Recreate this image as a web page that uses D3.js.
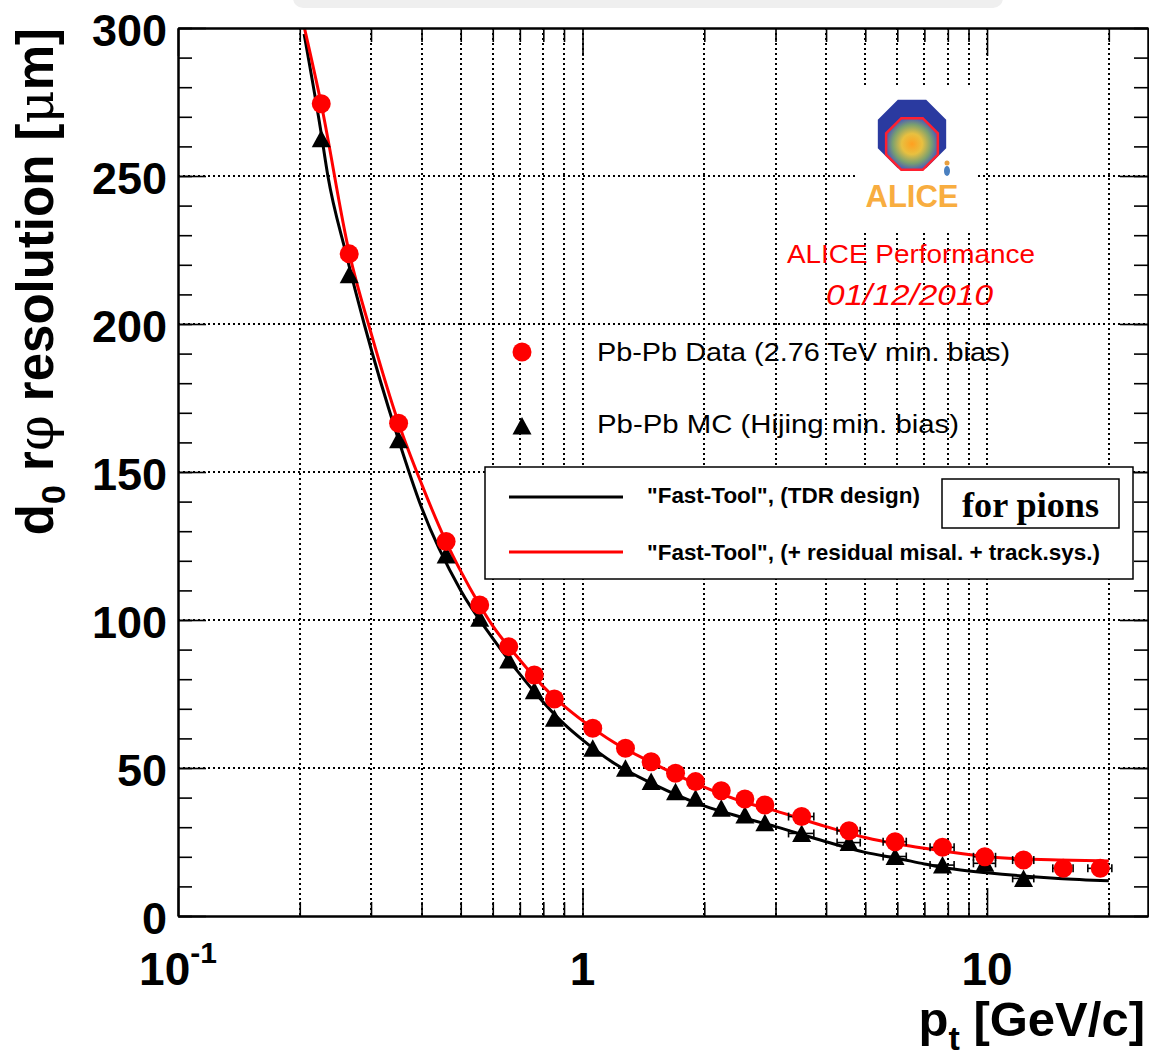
<!DOCTYPE html>
<html lang="en">
<head>
<meta charset="UTF-8" />
<title>d0 r-phi resolution vs pt</title>
<script src="https://cdn.jsdelivr.net/npm/d3@7"></script>
<style>
    body { margin: 0; background: #fff; }
    svg { font-family: "Liberation Sans", Arial, Helvetica, sans-serif; }
    .grid line { stroke: #000; stroke-width: 1.6; stroke-dasharray: 2,3; shape-rendering: crispEdges; }
    .axis path { stroke: #000; stroke-width: 2; }
    .axis line { stroke: #000; stroke-width: 1.6; }
</style>
</head>
<body>
<svg id="chart" width="1149" height="1059"></svg>
<script>
    // measured bins (pt in GeV/c)
    const ptBins = [0.226, 0.265, 0.351, 0.460, 0.557, 0.657, 0.760, 0.852, 1.06, 1.277, 1.478, 1.698,
                    1.903, 2.203, 2.52, 2.824, 3.481, 4.559, 5.925, 7.761, 9.876, 12.31, 15.43, 19.05];
    // horizontal half bin width (only the visible ones)
    const ptErr = [0, 0, 0, 0, 0, 0, 0, 0, 0, 0, 0, 0,
                   0, 0, 0, 0, 0.25, 0.30, 0.39, 0.53, 0.62, 0.74, 0.89, 1.3];
    // Pb-Pb data (2.76 TeV min. bias), microns
    const dataRes = [274.4, 223.7, 166.5, 126.5, 105.1, 91.0, 81.4, 73.3, 63.4, 56.7, 52.1, 48.2,
                     45.4, 42.3, 39.5, 37.5, 33.6, 28.8, 25.1, 23.2, 20.0, 18.9, 16.1, 16.1];
    // Pb-Pb MC (Hijing min. bias), microns
    const mcRes = [262.6, 216.6, 160.9, 122.0, 100.6, 86.5, 76.1, 66.8, 56.7, 49.9, 45.4, 42.0,
                   39.8, 36.4, 34.1, 31.5, 27.9, 24.8, 20.1, 17.2, 17.8, 12.7, null, null];

    // Fast-Tool, TDR design
    const tdrPt  = [0.205, 0.225, 0.2347, 0.26, 0.2886, 0.3488, 0.4, 0.5, 0.6, 0.7, 0.8, 0.9, 1.0,
                    1.2, 1.5, 2.0, 2.5, 3.0, 4.0, 5.0, 6.0, 7.0, 8.0, 10.0, 15.0, 20.0];
    const tdrRes = [298, 266, 250, 224, 200, 162, 138, 110, 93.8, 81.7, 72.2, 64.9, 59.5,
                    51.5, 44.5, 37.2, 33.2, 30.2, 25.1, 21.5, 19.5, 17.6, 16.1, 14.6, 12.7, 11.9];
    // Fast-Tool, + residual misal. + track.sys.
    const misPt  = [0.205, 0.2259, 0.2654, 0.3, 0.351, 0.4, 0.4598, 0.5, 0.5567, 0.6, 0.7, 0.8, 0.9,
                    1.0, 1.2, 1.5, 2.0, 2.5, 3.0, 4.0, 5.0, 6.0, 7.0, 8.0, 10.0, 12.0, 15.0, 20.0];
    const misRes = [300.5, 274.4, 223.7, 197, 166.5, 146, 126.5, 116.5, 105.1, 98, 86.5, 77.5, 71,
                    66, 58.5, 51.5, 43.5, 38.5, 35.5, 30.2, 26.5, 24.3, 22.9, 21.7, 20.0, 19.3, 18.9, 18.6];

    const yMajor = [0, 50, 100, 150, 200, 250, 300];
    const yMinor = d3.range(0, 301, 10);
    const xMajor = [0.1, 1, 10];
    const xMinor = [0.2, 0.3, 0.4, 0.5, 0.6, 0.7, 0.8, 0.9, 2, 3, 4, 5, 6, 7, 8, 9, 20];
    const xGrid = [0.2, 0.3, 0.4, 0.5, 0.6, 0.7, 0.8, 0.9, 1, 2, 3, 4, 5, 6, 7, 8, 9, 10, 20];
    const yGrid = [50, 100, 150, 200, 250];

    const L = 178, R = 1148, T = 28, B = 916;
    const svg = d3.select("#chart");
    const x = d3.scaleLog().domain([0.1, 25]).range([L, R]);
    const y = d3.scaleLinear().domain([0, 300]).range([B, T]);

    // faint remnant at the top edge
    svg.append("rect").attr("x", 293).attr("y", -12).attr("width", 710).attr("height", 20)
        .attr("rx", 10).attr("fill", "#efefef");

    svg.append("clipPath").attr("id", "plotclip")
        .append("rect").attr("x", L).attr("y", T).attr("width", R - L).attr("height", B - T);

    // grid
    const grid = svg.append("g").attr("class", "grid");
    grid.selectAll("line.gx").data(xGrid).enter().append("line")
        .attr("x1", d => Math.round(x(d))).attr("x2", d => Math.round(x(d))).attr("y1", T).attr("y2", B);
    grid.selectAll("line.gy").data(yGrid).enter().append("line")
        .attr("x1", L).attr("x2", R).attr("y1", d => Math.round(y(d))).attr("y2", d => Math.round(y(d)));

    // ALICE logo (white patch covers grid)
    const logo = svg.append("g");
    logo.append("rect").attr("x", 855).attr("y", 88).attr("width", 123).attr("height", 145).attr("fill", "#fff");
    const octa = (cx, cy, r) => {
        const pts = d3.range(8).map(i => {
            const a = Math.PI / 8 + i * Math.PI / 4;
            return [cx + r * Math.cos(a), cy + r * Math.sin(a)];
        });
        return "M" + pts.map(p => p.join(",")).join("L") + "Z";
    };
    const defs = svg.append("defs");
    const rg = defs.append("radialGradient").attr("id", "core");
    rg.append("stop").attr("offset", "0%").attr("stop-color", "#ffa020");
    rg.append("stop").attr("offset", "40%").attr("stop-color", "#e8c040");
    rg.append("stop").attr("offset", "75%").attr("stop-color", "#7aa070");
    rg.append("stop").attr("offset", "100%").attr("stop-color", "#5060b0");
    logo.append("path").attr("d", octa(912, 134, 37)).attr("fill", "#2a3aa0");
    logo.append("path").attr("d", octa(912, 144, 28)).attr("fill", "url(#core)")
        .attr("stroke", "#ff2030").attr("stroke-width", 2.5);
    logo.append("circle").attr("cx", 947).attr("cy", 163).attr("r", 2.5).attr("fill", "#e8a040");
    logo.append("ellipse").attr("cx", 947).attr("cy", 171).attr("rx", 3).attr("ry", 5).attr("fill", "#4a80c0");
    logo.append("text").attr("x", 912).attr("y", 207).attr("text-anchor", "middle")
        .attr("font-size", 31).attr("font-weight", "bold").attr("fill", "#f8ad40").text("ALICE");

    svg.append("text").attr("x", 787).attr("y", 263).attr("font-size", 26).attr("fill", "#ff0000")
        .attr("textLength", 248).attr("lengthAdjust", "spacingAndGlyphs").text("ALICE Performance");
    svg.append("text").attr("x", 826).attr("y", 305).attr("font-size", 30).attr("font-style", "italic")
        .attr("fill", "#ff0000").attr("textLength", 167).attr("lengthAdjust", "spacingAndGlyphs")
        .text("01/12/2010");

    // curves
    const line = d3.line().x(d => x(d[0])).y(d => y(d[1])).curve(d3.curveMonotoneX);
    const plot = svg.append("g").attr("clip-path", "url(#plotclip)");
    plot.append("path").datum(tdrPt.map((p, i) => [p, tdrRes[i]]))
        .attr("d", line).attr("fill", "none").attr("stroke", "#000").attr("stroke-width", 3);
    plot.append("path").datum(misPt.map((p, i) => [p, misRes[i]]))
        .attr("d", line).attr("fill", "none").attr("stroke", "#ff0000").attr("stroke-width", 3);

    // error bars
    function errBars(vals, color) {
        const rows = ptBins.map((p, i) => ({ p: p, e: ptErr[i], v: vals[i] }))
            .filter(d => d.v !== null && d.e > 0);
        const g = plot.append("g").attr("stroke", color).attr("stroke-width", 1.6);
        rows.forEach(d => {
            const x0 = x(d.p - d.e), x1 = x(d.p + d.e), yy = y(d.v);
            g.append("line").attr("x1", x0).attr("x2", x1).attr("y1", yy).attr("y2", yy);
            g.append("line").attr("x1", x0).attr("x2", x0).attr("y1", yy - 4).attr("y2", yy + 4);
            g.append("line").attr("x1", x1).attr("x2", x1).attr("y1", yy - 4).attr("y2", yy + 4);
        });
    }
    errBars(mcRes, "#000");
    errBars(dataRes, "#000");

    const tri = "M0,-9L9.5,8.5L-9.5,8.5Z";
    plot.selectAll("path.mc").data(ptBins.map((p, i) => [p, mcRes[i]]).filter(d => d[1] !== null))
        .enter().append("path").attr("class", "mc").attr("d", tri).attr("fill", "#000")
        .attr("transform", d => `translate(${x(d[0])},${y(d[1])})`);
    plot.selectAll("circle.data").data(ptBins.map((p, i) => [p, dataRes[i]]))
        .enter().append("circle").attr("class", "data").attr("r", 9.5).attr("fill", "#ff0000")
        .attr("cx", d => x(d[0])).attr("cy", d => y(d[1]));

    // axes (ticks inside the frame, mirrored on top and right)
    function addAxis(axisFn, scale, vals, size, tr) {
        svg.append("g").attr("class", "axis").attr("transform", tr)
            .call(axisFn(scale).tickValues(vals).tickSize(size).tickSizeOuter(0).tickFormat(""));
    }
    addAxis(d3.axisBottom, x, xMinor, -14, `translate(0,${B})`);
    addAxis(d3.axisBottom, x, xMajor, -28, `translate(0,${B})`);
    addAxis(d3.axisTop, x, xMinor, -14, `translate(0,${T})`);
    addAxis(d3.axisTop, x, xMajor, -28, `translate(0,${T})`);
    addAxis(d3.axisLeft, y, yMinor, -14, `translate(${L},0)`);
    addAxis(d3.axisLeft, y, yMajor, -28, `translate(${L},0)`);
    addAxis(d3.axisRight, y, yMinor, -14, `translate(${R},0)`);
    addAxis(d3.axisRight, y, yMajor, -28, `translate(${R},0)`);

    // tick labels
    svg.selectAll("text.yl").data(yMajor).enter().append("text")
        .attr("x", 167).attr("y", d => y(d) + 18).attr("text-anchor", "end")
        .attr("font-size", 45).attr("font-weight", "bold").text(d => d);
    const xl = svg.selectAll("text.xl").data(xMajor).enter().append("text")
        .attr("x", d => x(d)).attr("y", 985).attr("text-anchor", "middle")
        .attr("font-size", 46).attr("font-weight", "bold");
    xl.each(function (d) {
        const t = d3.select(this);
        if (d < 1) {
            t.append("tspan").text("10");
            t.append("tspan").attr("font-size", 30).attr("dy", -22).text("-1");
        } else {
            t.text(d);
        }
    });

    // axis titles
    const xt = svg.append("text").attr("x", 1145).attr("y", 1036).attr("text-anchor", "end")
        .attr("font-size", 49).attr("font-weight", "bold");
    xt.append("tspan").text("p");
    xt.append("tspan").attr("font-size", 34).attr("dy", 14).text("t");
    xt.append("tspan").attr("dy", -14).text(" [GeV/c]");

    const yt = svg.append("text").attr("transform", "translate(53,28) rotate(-90)")
        .attr("text-anchor", "end").attr("font-size", 51).attr("font-weight", "bold");
    yt.append("tspan").text("d");
    yt.append("tspan").attr("font-size", 34).attr("dy", 12).text("0");
    yt.append("tspan").attr("dy", -12).text(" r");
    yt.append("tspan").attr("font-weight", "normal").style("font-family", "'DejaVu Serif', serif").text("\u03c6");
    yt.append("tspan").text(" resolution [");
    yt.append("tspan").attr("font-weight", "normal").style("font-family", "'DejaVu Serif', serif").text("\u03bc");
    yt.append("tspan").text("m]");

    // marker legend
    svg.append("circle").attr("cx", 522).attr("cy", 352).attr("r", 9.5).attr("fill", "#ff0000");
    svg.append("path").attr("d", tri).attr("fill", "#000").attr("transform", "translate(522,426)");
    svg.append("text").attr("x", 597).attr("y", 361).attr("font-size", 26)
        .attr("textLength", 413).attr("lengthAdjust", "spacingAndGlyphs").text("Pb-Pb Data (2.76 TeV min. bias)");
    svg.append("text").attr("x", 597).attr("y", 433).attr("font-size", 26)
        .attr("textLength", 362).attr("lengthAdjust", "spacingAndGlyphs").text("Pb-Pb MC (Hijing min. bias)");

    // curve legend
    const lg = svg.append("g");
    lg.append("rect").attr("x", 485).attr("y", 467).attr("width", 648).attr("height", 112)
        .attr("fill", "#fff").attr("stroke", "#000").attr("stroke-width", 1.5);
    lg.append("line").attr("x1", 509).attr("x2", 623).attr("y1", 497).attr("y2", 497)
        .attr("stroke", "#000").attr("stroke-width", 3);
    lg.append("line").attr("x1", 509).attr("x2", 623).attr("y1", 552).attr("y2", 552)
        .attr("stroke", "#ff0000").attr("stroke-width", 3);
    lg.append("text").attr("x", 647).attr("y", 503).attr("font-size", 22.5).attr("font-weight", "bold")
        .attr("textLength", 273).attr("lengthAdjust", "spacingAndGlyphs").text("\"Fast-Tool\", (TDR design)");
    lg.append("text").attr("x", 647).attr("y", 560).attr("font-size", 22.5).attr("font-weight", "bold")
        .attr("textLength", 453).attr("lengthAdjust", "spacingAndGlyphs")
        .text("\"Fast-Tool\", (+ residual misal. + track.sys.)");
    lg.append("rect").attr("x", 942).attr("y", 479).attr("width", 177).attr("height", 49)
        .attr("fill", "#fff").attr("stroke", "#000").attr("stroke-width", 1.5);
    lg.append("text").attr("x", 962).attr("y", 517).attr("font-size", 36).attr("font-weight", "bold")
        .style("font-family", "'Liberation Serif', 'Times New Roman', serif")
        .attr("textLength", 137).attr("lengthAdjust", "spacingAndGlyphs").text("for pions");
</script>
</body>
</html>
